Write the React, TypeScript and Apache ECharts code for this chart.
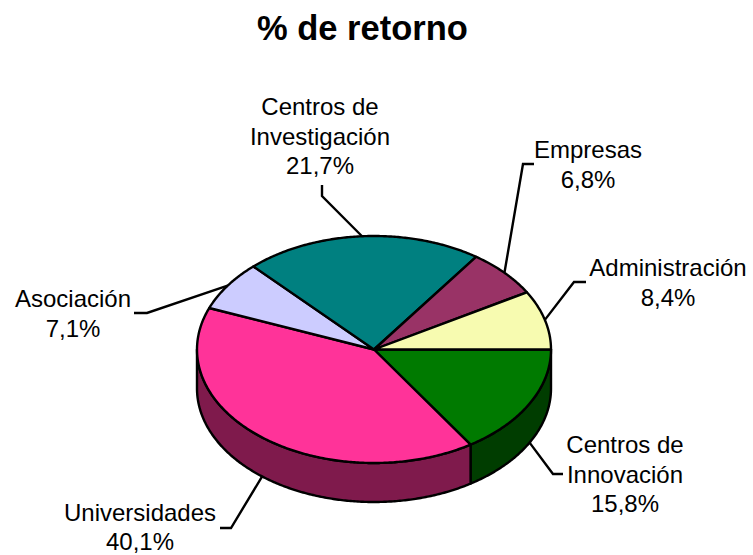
import React, { useEffect, useRef } from "react";
import * as echarts from "echarts";

const titleText = "% de retorno";
// clockwise from the 3 o'clock direction
const categories = [
  "Centros de\nInnovación",
  "Universidades",
  "Asociación",
  "Centros de\nInvestigación",
  "Empresas",
  "Administración",
];
const shares = [15.8, 40.1, 7.1, 21.7, 6.8, 8.4];

const topColors = ["#007A00", "#FF3399", "#CCCCFF", "#008080", "#993366", "#F7FBB0"];
const sideColors = ["#003D00", "#7F1A4C", "#666680", "#004040", "#4D1A33", "#7C7D58"];

const CX = 374;
const CY = 349.5;
const RX = 177;
const RY = 113.5;
const DEPTH = 39;
const FONT = "'Liberation Sans', Arial, sans-serif";
const LABEL_SIZE = 24;
const LINE_H = 29.3;

// label centre and leader elbow, per category
const labelCenters = [
  [625, 474],
  [140, 527],
  [73, 313.5],
  [320, 136],
  [588, 164.5],
  [668, 282.5],
];
const leaderStarts = [
  [563, 474],
  [220, 528],
  [134, 313],
  [322, 185],
  [534, 164],
  [586, 282],
];
const leaderElbows = [
  [553, 474],
  [231, 528],
  [147, 313],
  [322, 196],
  [523, 164],
  [574, 282],
];

const total = shares.reduce((a, b) => a + b, 0);
const startAngle = (i: number) =>
  (shares.slice(0, i).reduce((a, b) => a + b, 0) / total) * Math.PI * 2;
const fmt = (v: number) => v.toFixed(1).replace(".", ",") + "%";

const pt = (a: number, dy = 0): number[] => [
  CX + RX * Math.cos(a),
  CY + dy + RY * Math.sin(a),
];
const arc = (a0: number, a1: number, dy = 0): number[][] => {
  const n = Math.max(2, Math.ceil(Math.abs(a1 - a0) / 0.01));
  const out: number[][] = [];
  for (let k = 0; k <= n; k++) out.push(pt(a0 + ((a1 - a0) * k) / n, dy));
  return out;
};

const stroke = { stroke: "#000", lineWidth: 2.4, lineJoin: "round" as const };

export default function App() {
  const ref = useRef<HTMLDivElement>(null);
  useEffect(() => {
    const chart = echarts.init(ref.current!, null, { renderer: "svg" });
    const rows = shares.map((v, i) => [v, i]);
    chart.setOption({
      animation: false,
      backgroundColor: "#fff",
      title: {
        text: titleText,
        left: 252,
        top: 5,
        textStyle: { fontFamily: FONT, fontWeight: "bold", fontSize: 34.5, color: "#000" },
      },
      series: [
        {
          type: "custom",
          coordinateSystem: "none",
          silent: true,
          z: 1,
          data: rows,
          renderItem: (_p: any, api: any) => {
            const i = api.value(1);
            const a0 = Math.max(startAngle(i), 0);
            const a1 = Math.min(startAngle(i) + (api.value(0) / total) * Math.PI * 2, Math.PI);
            if (a1 <= a0) return { type: "group", children: [] };
            return {
              type: "polygon",
              shape: { points: [...arc(a0, a1), ...arc(a1, a0, DEPTH)] },
              style: { fill: sideColors[i], ...stroke },
            };
          },
        },
        {
          type: "custom",
          coordinateSystem: "none",
          silent: true,
          z: 2,
          data: rows,
          renderItem: (_p: any, api: any) => {
            const i = api.value(1);
            const a0 = startAngle(i);
            const a1 = a0 + (api.value(0) / total) * Math.PI * 2;
            return {
              type: "polygon",
              shape: { points: [[CX, CY], ...arc(a0, a1)] },
              style: { fill: topColors[i], ...stroke },
            };
          },
        },
        {
          type: "custom",
          coordinateSystem: "none",
          silent: true,
          z: 0,
          data: rows,
          renderItem: (_p: any, api: any) => {
            const i = api.value(1);
            const mid = startAngle(i) + (api.value(0) / total) * Math.PI;
            const s = Math.sin(mid);
            const anchor = pt(mid, s > 0 ? DEPTH : 0);
            const text = categories[i] + "\n" + fmt(api.value(0));
            return {
              type: "group",
              children: [
                {
                  type: "polyline",
                  shape: { points: [leaderStarts[i], leaderElbows[i], anchor] },
                  style: { fill: "none", stroke: "#000", lineWidth: 2.4 },
                },
                {
                  type: "text",
                  x: labelCenters[i][0],
                  y: labelCenters[i][1],
                  style: {
                    text,
                    fill: "#000",
                    fontFamily: FONT,
                    fontSize: LABEL_SIZE,
                    lineHeight: LINE_H,
                    align: "center",
                    verticalAlign: "middle",
                  },
                },
              ],
            };
          },
        },
      ],
    });
    return () => chart.dispose();
  }, []);
  return (
    <div
      ref={ref}
      style={{ position: "absolute", left: 0, top: 0, width: 753, height: 555 }}
    />
  );
}
